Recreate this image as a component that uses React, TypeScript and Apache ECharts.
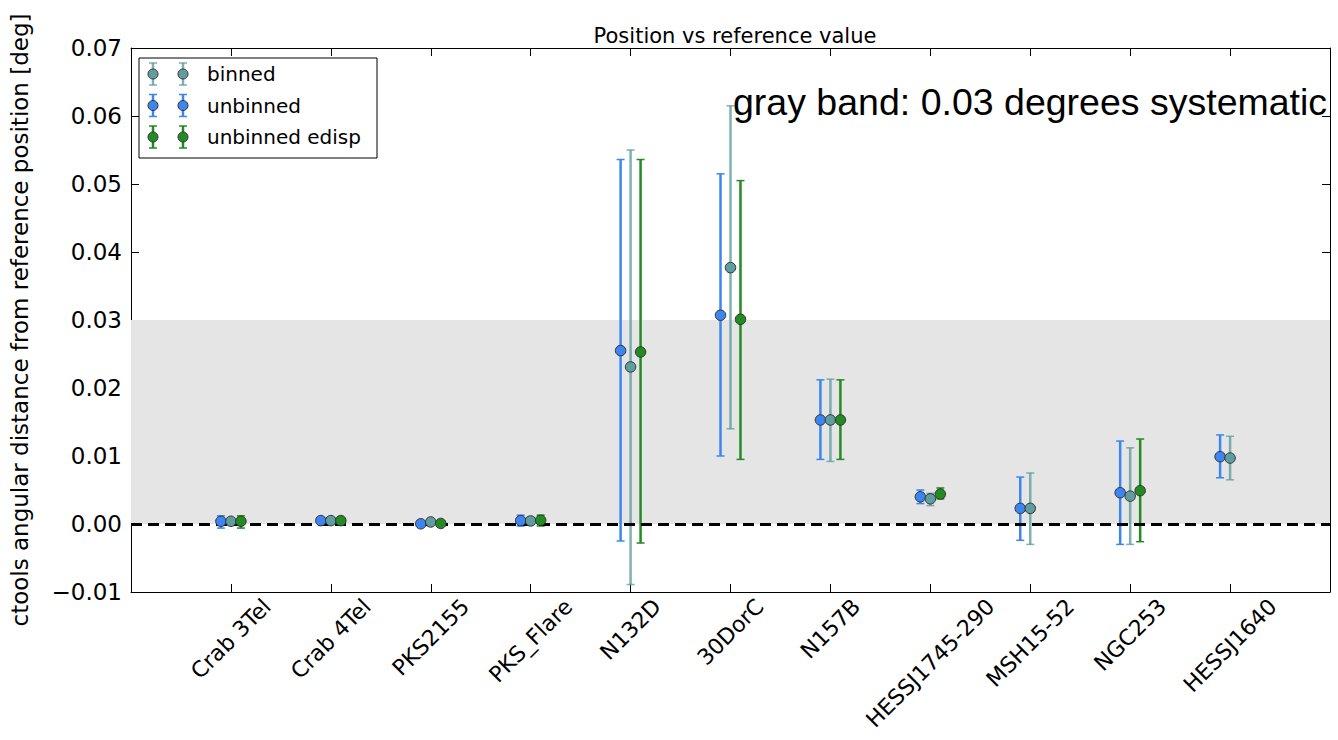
import React, { useEffect, useRef } from 'react';
import * as echarts from 'echarts';

// ---------- data ----------
const categories = [
  'Crab 3Tel', 'Crab 4Tel', 'PKS2155', 'PKS_Flare', 'N132D', '30DorC',
  'N157B', 'HESSJ1745-290', 'MSH15-52', 'NGC253', 'HESSJ1640',
];

const unbinnedValues = [0.0004, 0.0005, 0.00003, 0.0005, 0.0255, 0.0307, 0.0153, 0.0040, 0.0023, 0.0046, 0.0099];
const unbinnedLow = [-0.0006, 0.0003, -0.0001, -0.0003, -0.0025, 0.0100, 0.0095, 0.0030, -0.0024, -0.0030, 0.0068];
const unbinnedHigh = [0.0012, 0.0007, 0.0002, 0.0013, 0.0536, 0.0515, 0.0212, 0.0050, 0.0069, 0.0122, 0.0131];

const binnedValues = [0.0004, 0.0005, 0.0003, 0.00045, 0.0231, 0.0377, 0.0153, 0.0037, 0.0023, 0.0041, 0.0097];
const binnedLow = [-0.0001, 0.0003, 0.0002, -0.0001, -0.0089, 0.0140, 0.0092, 0.0027, -0.0030, -0.0030, 0.0065];
const binnedHigh = [0.0009, 0.0007, 0.0004, 0.0010, 0.0550, 0.0615, 0.0213, 0.0045, 0.0075, 0.0112, 0.0129];

const edispValues = [0.0004, 0.0005, 0.00008, 0.00055, 0.0253, 0.0301, 0.0153, 0.0044, null, 0.0049, null];
const edispLow = [-0.0006, 0.0003, -0.0001, -0.0003, -0.0028, 0.0095, 0.0095, 0.0037, null, -0.0026, null];
const edispHigh = [0.0012, 0.0007, 0.0002, 0.0013, 0.0536, 0.0505, 0.0212, 0.0053, null, 0.0125, null];

const Y_MIN = -0.01;
const Y_MAX = 0.07;
const Y_STEP = 0.01;
const BAND = [0, 0.03];

const TITLE = 'Position vs reference value';
const Y_NAME = 'ctools angular distance from reference position [deg]';
const NOTE = 'gray band: 0.03 degrees systematic';

// ---------- styles ----------
const FONT = 'DejaVu Sans';
const C_BLUE = '#3d86f2';
const C_BINNED = '#5f9ea0';
const C_GREEN = '#228b22';

const seriesDefs = [
  { name: 'unbinned', color: C_BLUE, barOpacity: 1, offset: -0.1, values: unbinnedValues, low: unbinnedLow, high: unbinnedHigh },
  { name: 'binned', color: C_BINNED, barOpacity: 0.8, offset: 0, values: binnedValues, low: binnedLow, high: binnedHigh },
  { name: 'unbinned edisp', color: C_GREEN, barOpacity: 1, offset: 0.1, values: edispValues, low: edispLow, high: edispHigh },
];

const legendOrder = [
  { label: 'binned', color: C_BINNED, barOpacity: 0.8 },
  { label: 'unbinned', color: C_BLUE, barOpacity: 1 },
  { label: 'unbinned edisp', color: C_GREEN, barOpacity: 1 },
];

function fmtY(v: number) {
  const r = Math.round(v * 100) / 100;
  if (r < 0) return '\u2212' + Math.abs(r).toFixed(2);
  return r.toFixed(2);
}

export default function App() {
  const ref = useRef<HTMLDivElement>(null);

  useEffect(() => {
    const chart = echarts.init(ref.current!, null, { renderer: 'svg' });

    const xAxisBase = {
      type: 'value',
      min: -1,
      max: 11,
      interval: 1,
      splitLine: { show: false },
      axisLine: { show: true, onZero: false, lineStyle: { color: '#000', width: 1 } },
      axisTick: { show: true, inside: true, length: 8, lineStyle: { color: '#000' } },
      axisLabel: { show: false },
    };
    const yAxisBase = {
      type: 'value',
      min: Y_MIN,
      max: Y_MAX,
      interval: Y_STEP,
      splitLine: { show: false },
      axisLine: { show: true, onZero: false, lineStyle: { color: '#000', width: 1 } },
      axisTick: { show: true, inside: true, length: 8, lineStyle: { color: '#000' } },
    };

    const errorSeries = seriesDefs.map((s) => ({
      type: 'custom',
      name: s.name + ' err',
      z: 3,
      silent: true,
      renderItem: (params: any, api: any) => {
        const x = api.value(0);
        const lo = api.coord([x, api.value(1)]);
        const hi = api.coord([x, api.value(2)]);
        const cap = 4;
        const style = { stroke: s.color, lineWidth: 2.5, opacity: s.barOpacity };
        const capStyle = { stroke: s.color, lineWidth: 1.5, opacity: s.barOpacity };
        return {
          type: 'group',
          children: [
            { type: 'line', shape: { x1: lo[0], y1: lo[1], x2: hi[0], y2: hi[1] }, style },
            { type: 'line', shape: { x1: lo[0] - cap, y1: lo[1], x2: lo[0] + cap, y2: lo[1] }, style: capStyle },
            { type: 'line', shape: { x1: hi[0] - cap, y1: hi[1], x2: hi[0] + cap, y2: hi[1] }, style: capStyle },
          ],
        };
      },
      data: categories
        .map((_, i) => (s.values[i] == null ? null : [i + s.offset, s.low[i], s.high[i]]))
        .filter((d) => d !== null),
    }));

    const pointSeries = seriesDefs.map((s) => ({
      type: 'scatter',
      name: s.name,
      z: 5,
      symbol: 'circle',
      symbolSize: 10.5,
      itemStyle: { color: s.color, borderColor: '#333', borderWidth: 1, opacity: 1 },
      data: categories
        .map((_, i) => (s.values[i] == null ? null : [i + s.offset, s.values[i]]))
        .filter((d) => d !== null),
    }));

    const option: any = {
      animation: false,
      backgroundColor: '#fff',
      textStyle: { fontFamily: FONT },
      title: {
        text: TITLE,
        left: 730,
        top: 20,
        textAlign: 'center',
        textStyle: { fontFamily: FONT, fontSize: 21, fontWeight: 'normal', color: '#000' },
      },
      grid: { left: 130, right: 8, top: 48, bottom: 148, containLabel: false },
      xAxis: [
        { ...xAxisBase, position: 'bottom' },
        { ...xAxisBase, position: 'top' },
      ],
      yAxis: [
        {
          ...yAxisBase,
          position: 'left',
          axisLabel: { show: true, fontFamily: FONT, fontSize: 23, color: '#000', margin: 9, formatter: fmtY },
          name: Y_NAME,
          nameLocation: 'middle',
          nameRotate: 90,
          nameGap: 100,
          nameTextStyle: { fontFamily: FONT, fontSize: 23, color: '#000' },
        },
        { ...yAxisBase, position: 'right', axisLabel: { show: false } },
      ],
      series: [
        {
          type: 'scatter',
          name: 'band',
          z: 1,
          silent: true,
          data: [],
          markArea: {
            silent: true,
            itemStyle: { color: '#e5e5e5', opacity: 1 },
            data: [[{ xAxis: -1, yAxis: BAND[0] }, { xAxis: 11, yAxis: BAND[1] }]],
          },
          markLine: {
            silent: true,
            symbol: 'none',
            label: { show: false },
            lineStyle: { color: '#000', width: 3, type: [11, 6] },
            data: [{ yAxis: 0 }],
          },
        },
        ...errorSeries,
        ...pointSeries,
      ],
    };

    chart.setOption(option);

    // x tick labels, rotated 45deg and centered under their ticks (matplotlib style)
    const X_FONT = 22;
    const ctx = document.createElement('canvas').getContext('2d')!;
    ctx.font = `${X_FONT}px "${FONT}"`;
    const axisY = chart.convertToPixel({ yAxisIndex: 0 }, Y_MIN) as number;
    const k = Math.SQRT1_2;
    const labelGraphics = categories.map((c, i) => {
      const px = chart.convertToPixel({ xAxisIndex: 0 }, i) as number;
      const L = ctx.measureText(c).width;
      const cy = axisY + 3 + (k * (L + X_FONT)) / 2;
      return {
        type: 'text',
        x: px,
        y: cy,
        rotation: Math.PI / 4,
        silent: true,
        style: {
          text: c,
          fontSize: X_FONT,
          fontFamily: FONT,
          fill: '#000',
          align: 'center',
          verticalAlign: 'middle',
          textAlign: 'center',
          textVerticalAlign: 'middle',
        },
      };
    });

    // legend
    const LX = 139, LY = 58, LW = 238, LH = 100;
    const legendGraphics: any[] = [
      { type: 'rect', shape: { x: LX, y: LY, width: LW, height: LH }, style: { fill: '#fff', stroke: '#000', lineWidth: 1 }, z: 100 },
    ];
    legendOrder.forEach((e, j) => {
      const y = 74 + j * 31.5;
      [153, 183].forEach((mx) => {
        legendGraphics.push(
          { type: 'line', shape: { x1: mx, y1: y - 11, x2: mx, y2: y + 11 }, style: { stroke: e.color, lineWidth: 2.5, opacity: e.barOpacity }, z: 101 },
          { type: 'line', shape: { x1: mx - 4, y1: y - 11, x2: mx + 4, y2: y - 11 }, style: { stroke: e.color, lineWidth: 1.5, opacity: e.barOpacity }, z: 101 },
          { type: 'line', shape: { x1: mx - 4, y1: y + 11, x2: mx + 4, y2: y + 11 }, style: { stroke: e.color, lineWidth: 1.5, opacity: e.barOpacity }, z: 101 },
          { type: 'circle', shape: { cx: mx, cy: y, r: 5 }, style: { fill: e.color, stroke: '#333', lineWidth: 1 }, z: 102 },
        );
      });
      legendGraphics.push({
        type: 'text',
        x: 207,
        y: y,
        z: 102,
        style: {
          text: e.label,
          fontSize: 20,
          fontFamily: FONT,
          fill: '#000',
          align: 'left',
          verticalAlign: 'middle',
          textAlign: 'left',
          textVerticalAlign: 'middle',
        },
      });
    });

    const noteGraphic = {
      type: 'text',
      x: 733,
      y: 102,
      z: 100,
      silent: true,
      style: {
        text: NOTE,
        fontSize: 37.5,
        fontFamily: 'Liberation Sans',
        fill: '#000',
        align: 'left',
        verticalAlign: 'middle',
        textAlign: 'left',
        textVerticalAlign: 'middle',
      },
    };

    chart.setOption({ graphic: [...legendGraphics, ...labelGraphics, noteGraphic] });

    return () => chart.dispose();
  }, []);

  return <div ref={ref} style={{ position: 'fixed', left: 0, top: 0, width: 1338, height: 740 }} />;
}
